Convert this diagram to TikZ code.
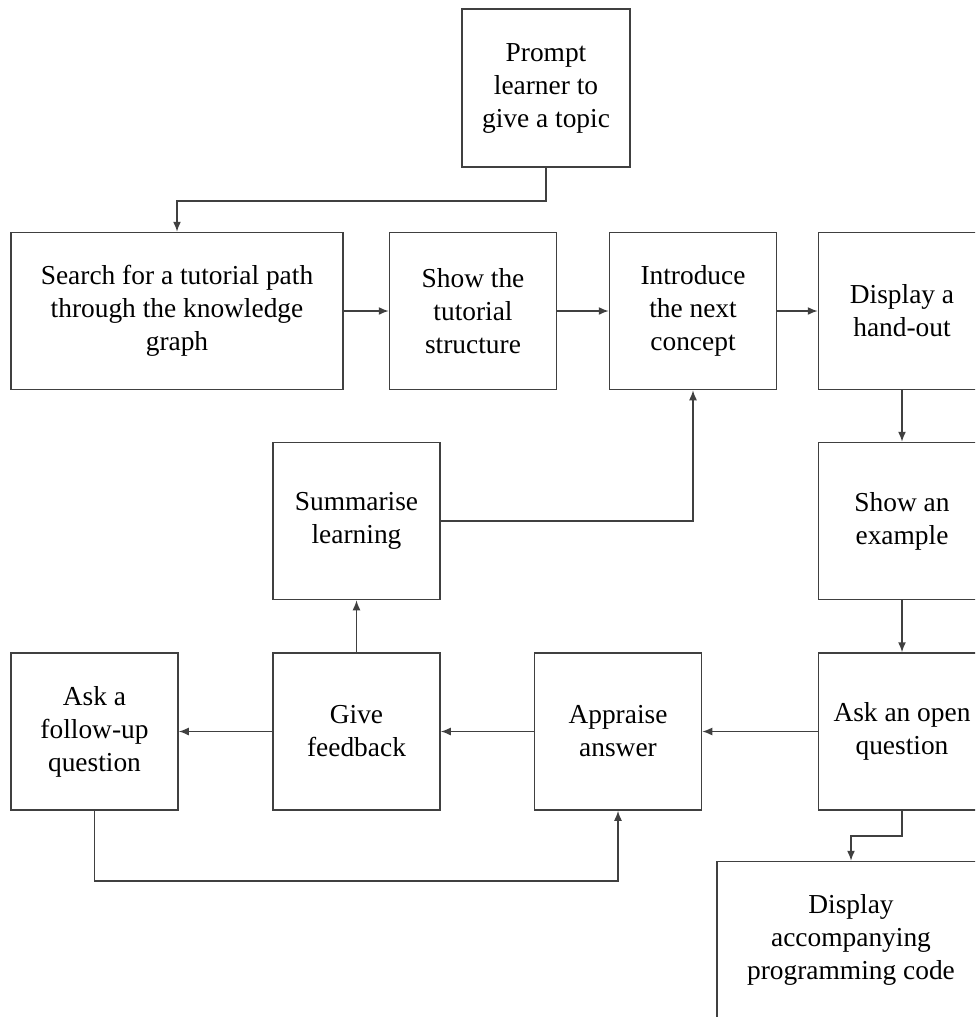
\documentclass[tikz,border=0pt]{standalone}
\usepackage{fontspec}
\setmainfont{Liberation Serif}
\usetikzlibrary{arrows.meta}
\begin{document}
\begin{tikzpicture}[x=0.5pt,y=-0.5pt,
  stepbox/.style={draw=black!75, line width=0.75pt, fill=white, inner sep=0pt,
    minimum width=83.5pt, minimum height=78.5pt, align=center,
    font=\fontsize{13.7}{16.5}\selectfont},
  link/.style={draw=black!75, line width=0.75pt, -{Latex[length=5pt,width=4pt]}}]
\useasboundingbox (0,0) rectangle (975,1017);
\clip (0,0) rectangle (975,1017);

% boxes of the tutorial flow
\node[stepbox, minimum width=84pt, minimum height=79pt] (prompt) at (546,88) {Prompt\\learner to\\give a topic};
\node[stepbox, minimum width=166pt] (search) at (177,311) {Search for a tutorial path\\through the knowledge\\graph};
\node[stepbox] (show) at (473,311) {Show the\\tutorial\\structure};
\node[stepbox] (intro) at (693,311) {Introduce\\the next\\concept};
\node[stepbox] (handout) at (902,311) {Display a\\hand-out};
\node[stepbox] (summ) at (356.5,521) {Summarise\\learning};
\node[stepbox] (example) at (902,521) {Show an\\example};
\node[stepbox] (follow) at (94.5,731.5) {Ask a\\follow-up\\question};
\node[stepbox] (feedback) at (356.5,731.5) {Give\\feedback};
\node[stepbox] (appraise) at (618,731.5) {Appraise\\answer};
\node[stepbox] (open) at (902,731.5) {Ask an open\\question};
\node[stepbox, minimum width=134pt] (code) at (851,940) {Display\\accompanying\\programming code};

% connectors
\draw[link] (prompt.south) -- ++(0,33) -| (search.north);
\draw[link] (search) -- (show);
\draw[link] (show) -- (intro);
\draw[link] (intro) -- (handout);
\draw[link] (handout) -- (example);
\draw[link] (example) -- (open);
\draw[link] (open) -- (appraise);
\draw[link] (appraise) -- (feedback);
\draw[link] (feedback) -- (follow);
\draw[link] (feedback) -- (summ);
\draw[link] (summ.east) -| (intro.south);
\draw[link] (follow.south) -- ++(0,70) -| (appraise.south);
\draw[link] (open.south) -- ++(0,25) -| (code.north);
\end{tikzpicture}
\end{document}
